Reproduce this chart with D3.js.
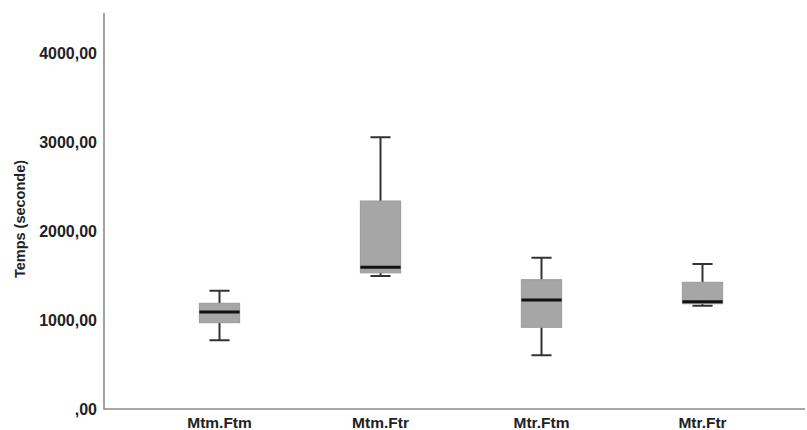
<!DOCTYPE html>
<html>
<head>
<meta charset="utf-8">
<script src="https://cdn.jsdelivr.net/npm/d3@7"></script>
<style>
  body { margin: 0; background: #fff; }
  text { font-family: "Liberation Sans", Arial, sans-serif; }
</style>
</head>
<body>
<svg id="graph" width="807" height="430"></svg>
<script>
var categories = ["Mtm.Ftm", "Mtm.Ftr", "Mtr.Ftm", "Mtr.Ftr"];
var whiskerLow = [772, 1494, 603, 1161];
var q1 = [970, 1530, 918, 1183];
var median = [1090, 1592, 1225, 1206];
var q3 = [1188, 2337, 1453, 1424];
var whiskerHigh = [1329, 3053, 1700, 1629];
var yTicks = [0, 1000, 2000, 3000, 4000];

var width = 807, height = 430;
var margin = { top: 13, right: 2, bottom: 21, left: 104 };

var svg = d3.select("#graph");

var data = categories.map((c, i) => ({
    cat: c, lo: whiskerLow[i], q1: q1[i], med: median[i], q3: q3[i], hi: whiskerHigh[i]
}));

var x = d3.scaleBand()
    .domain(categories)
    .range([139, 783]);

var y = d3.scaleLinear()
    .domain([0, 4450])
    .range([height - margin.bottom, margin.top]);

var boxW = x.bandwidth() * 0.25;
var capW = boxW / 2;

var xAxis = g => g
    .attr("transform", `translate(0,${height - margin.bottom})`)
    .call(d3.axisBottom(x).tickSize(0).tickPadding(8))
    .call(g => g.select(".domain").remove())
    .call(g => g.selectAll("text")
        .attr("font-size", 15.5)
        .attr("font-weight", "bold")
        .attr("fill", "#222"));

var yAxis = g => g
    .attr("transform", `translate(${margin.left},0)`)
    .call(d3.axisLeft(y).tickValues(yTicks).tickSize(0).tickPadding(7)
        .tickFormat(d => d === 0 ? ",00" : d + ",00"))
    .call(g => g.select(".domain").remove())
    .call(g => g.selectAll("text")
        .attr("font-size", 16)
        .attr("font-weight", "bold")
        .attr("fill", "#222"));

svg.append("g").call(xAxis);
svg.append("g").call(yAxis);

// axis lines
svg.append("path")
    .attr("d", `M${margin.left},${margin.top}V${height - margin.bottom}H${width - margin.right}`)
    .attr("fill", "none")
    .attr("stroke", "#8c8c8c")
    .attr("stroke-width", 1.6);

svg.append("text")
    .attr("transform", `translate(25,${(margin.top + height - margin.bottom) / 2 + 8}) rotate(-90)`)
    .attr("text-anchor", "middle")
    .attr("font-size", 14.5)
    .attr("font-weight", "bold")
    .attr("fill", "#222")
    .text("Temps (seconde)");

var box = svg.append("g").selectAll("g")
    .data(data)
    .join("g")
    .attr("transform", d => `translate(${x(d.cat) + x.bandwidth() / 2},0)`);

// whiskers
box.append("path")
    .attr("d", d => `M0,${y(d.hi)}V${y(d.q3)}M0,${y(d.q1)}V${y(d.lo)}` +
        `M${-capW / 2},${y(d.hi)}H${capW / 2}M${-capW / 2},${y(d.lo)}H${capW / 2}`)
    .attr("fill", "none")
    .attr("stroke", "#333")
    .attr("stroke-width", 2);

box.append("rect")
    .attr("x", -boxW / 2)
    .attr("width", boxW)
    .attr("y", d => y(d.q3))
    .attr("height", d => y(d.q1) - y(d.q3))
    .attr("fill", "#a6a6a6")
    .attr("stroke", "#9a9a9a")
    .attr("stroke-width", 1);

box.append("path")
    .attr("d", d => `M${-boxW / 2},${y(d.med)}H${boxW / 2}`)
    .attr("stroke", "#111")
    .attr("stroke-width", 3);
</script>
</body>
</html>
